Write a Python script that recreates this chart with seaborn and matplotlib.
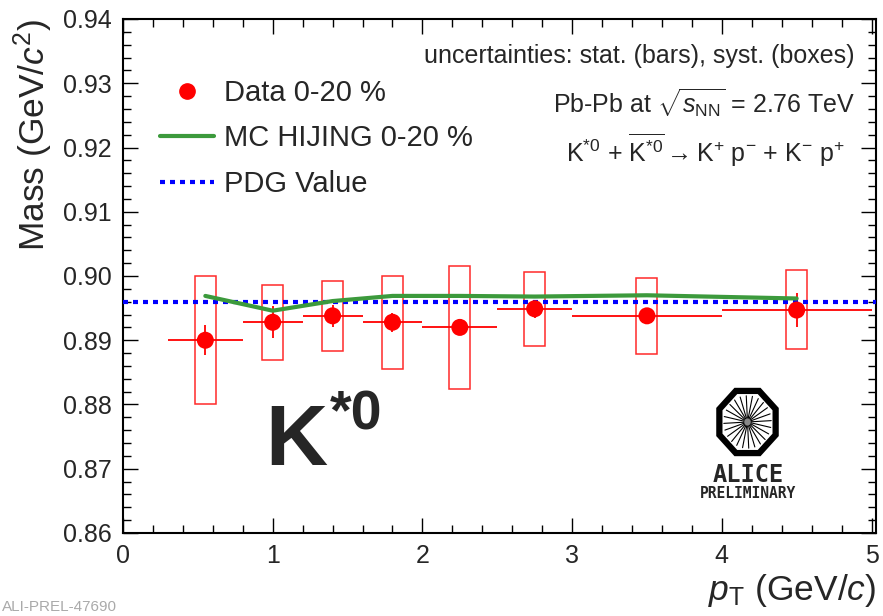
import numpy as np
import pandas as pd
import matplotlib
matplotlib.use("Agg")
import matplotlib.pyplot as plt
from matplotlib.patches import Rectangle, Polygon
from matplotlib.lines import Line2D
from matplotlib.ticker import MultipleLocator
import seaborn as sns

# ---------------- data ----------------
pt = [0.55, 1.00, 1.40, 1.80, 2.25, 2.75, 3.50, 4.50]
pt_lo = [0.30, 0.80, 1.20, 1.60, 2.00, 2.50, 3.00, 4.00]
pt_hi = [0.80, 1.20, 1.60, 2.00, 2.50, 3.00, 4.00, 5.00]
mass = [0.8900, 0.8928, 0.8938, 0.8928, 0.8920, 0.8949, 0.8938, 0.8947]
stat_err = [0.0023, 0.0025, 0.0017, 0.0015, 0.0008, 0.0014, 0.0008, 0.0026]
syst_lo = [0.8801, 0.8870, 0.8884, 0.8855, 0.8824, 0.8891, 0.8878, 0.8886]
syst_hi = [0.9000, 0.8986, 0.8992, 0.9000, 0.9016, 0.9007, 0.8997, 0.9009]
mc_mass = [0.8969, 0.8946, 0.8961, 0.8969, 0.8969, 0.8968, 0.8970, 0.8965]
pdg_mass = 0.8960
box_halfwidth = 0.07

sns.set_style("white")
plt.rcParams["font.family"] = ["Liberation Sans", "DejaVu Sans"]
plt.rcParams["mathtext.fontset"] = "custom"
plt.rcParams["mathtext.rm"] = "Liberation Sans"
plt.rcParams["mathtext.it"] = "Liberation Sans:italic"
plt.rcParams["mathtext.bf"] = "Liberation Sans:bold"
plt.rcParams["mathtext.sf"] = "Liberation Sans"

W, H = 883, 616
fig = plt.figure(figsize=(W / 100, H / 100), dpi=100)
fig.patch.set_facecolor("white")
ax = fig.add_axes([123 / W, 83 / H, (876 - 123) / W, (533 - 19) / H])

df = pd.DataFrame({"pt": pt, "mass": mass, "mc": mc_mass})

# syst boxes
for x, lo, hi in zip(pt, syst_lo, syst_hi):
    ax.add_patch(Rectangle((x - box_halfwidth, lo), 2 * box_halfwidth, hi - lo,
                           fill=False, edgecolor="#ff2a2a", lw=1.1, zorder=2))

# stat errors and bin widths
ax.errorbar(pt, mass, yerr=stat_err,
            xerr=[np.array(pt) - np.array(pt_lo), np.array(pt_hi) - np.array(pt)],
            fmt="none", ecolor="red", elinewidth=1.3, capsize=0, zorder=3)

# PDG line
ax.axhline(pdg_mass, color="#0000ff", lw=3, linestyle=(0, (1.2, 1.2)), zorder=4)

# MC line
sns.lineplot(data=df, x="pt", y="mc", ax=ax, color="#3c9a3c", lw=3, zorder=5,
             legend=False)

# data points
sns.scatterplot(data=df, x="pt", y="mass", ax=ax, color="red", s=150,
                edgecolor="none", zorder=6, legend=False)

ax.set_xlim(0, 5.03)
ax.set_ylim(0.86, 0.94)
ax.xaxis.set_major_locator(MultipleLocator(1))
ax.xaxis.set_minor_locator(MultipleLocator(0.2))
ax.yaxis.set_major_locator(MultipleLocator(0.01))
ax.yaxis.set_minor_locator(MultipleLocator(0.002))
ax.yaxis.set_major_formatter(matplotlib.ticker.FormatStrFormatter("%.2f"))
ax.tick_params(which="both", direction="in", top=True, right=True,
               bottom=True, left=True, width=1.0, color="black")
ax.tick_params(which="major", length=11, labelsize=18, pad=8)
ax.tick_params(which="minor", length=5.5)
for s in ax.spines.values():
    s.set_visible(True)
    s.set_color("black")
    s.set_linewidth(1.5)

ax.set_xlabel(r"$p_{\rm T}$ (GeV/$c$)", fontsize=25.5, loc="right", labelpad=3)
ax.set_ylabel(r"Mass (GeV/$c^{2}$)", fontsize=25.5, loc="top", labelpad=6)

# legend
handles = [
    Line2D([], [], marker="o", color="red", linestyle="none", markersize=11),
    Line2D([], [], color="#3c9a3c", lw=3),
    Line2D([], [], color="#0000ff", lw=3, linestyle=(0, (1.2, 1.2))),
]
labels = ["Data 0-20 %", "MC HIJING 0-20 %", "PDG Value"]
ax.legend(handles, labels, loc="upper left", bbox_to_anchor=(160 / W, 1 - 79 / H),
          bbox_transform=fig.transFigure, frameon=False, fontsize=21,
          borderpad=0, borderaxespad=0, handlelength=1.85, handletextpad=0.35,
          labelspacing=0.6)

# annotations
tx = (855 - 123) / (876 - 123)
ax.text(tx, (533 - 56) / 514, "uncertainties: stat. (bars), syst. (boxes)",
        transform=ax.transAxes, ha="right", va="center", fontsize=18)
ax.text(tx, (533 - 103) / 514, r"Pb-Pb at $\sqrt{s_{\rm NN}}$ = 2.76 TeV",
        transform=ax.transAxes, ha="right", va="center", fontsize=18)
ax.text((845 - 123) / (876 - 123), (533 - 150) / 514,
        r"K$^{*0}$ + $\overline{\rm K^{*0}}$$\rightarrow$K$^{+}$ p$^{-}$ + K$^{-}$ p$^{+}$",
        transform=ax.transAxes, ha="right", va="center", fontsize=18)

fig.text(265 / W, 1 - 465 / H, "K", fontsize=62, fontweight="bold", va="baseline")
fig.text(330 / W, 1 - 430 / H, "*0", fontsize=40, fontweight="bold", va="baseline")

# ALICE logo
lax = fig.add_axes([714 / W, 1 - 459 / H, 67 / W, 74 / H])
lax.set_xlim(-1.1, 1.1)
lax.set_ylim(-1.1, 1.1)
lax.axis("off")
ang = np.deg2rad(22.5 + 45 * np.arange(8))
oct_pts = np.column_stack([np.cos(ang), np.sin(ang)]) * 1.0
lax.add_patch(Polygon(oct_pts, closed=True, fill=False, edgecolor="black", lw=4.5))
for a in np.deg2rad(np.arange(0, 360, 15) + 3):
    lax.plot([0.12 * np.cos(a), 0.78 * np.cos(a)], [0.12 * np.sin(a), 0.78 * np.sin(a)],
             color="black", lw=0.8)
lax.add_patch(plt.Circle((0, 0), 0.12, color="#888888"))
fig.text(748 / W, 1 - 475 / H, "ALICE", fontsize=17, family="DejaVu Sans Mono",
         fontweight="bold", ha="center", va="center")
fig.text(748 / W, 1 - 494 / H, "PRELIMINARY", fontsize=10.5, family="DejaVu Sans Mono",
         fontweight="bold", ha="center", va="center")

fig.text(2 / W, 1 - 607 / H, "ALI-PREL-47690", fontsize=11, color="#aaaaaa",
         ha="left", va="center")

fig.savefig("out.png", dpi=100)
